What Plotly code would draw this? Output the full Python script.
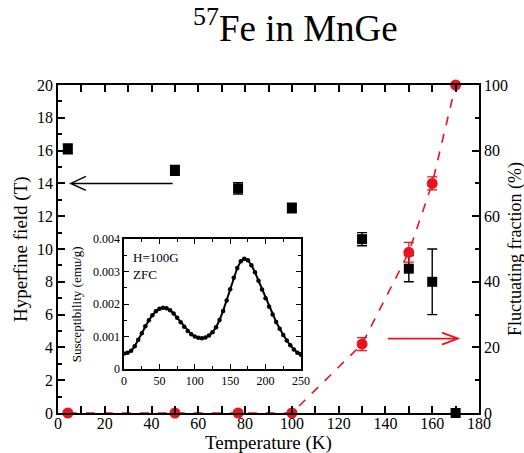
import plotly.graph_objects as go

# Hyperfine field (left axis, tesla)
temp_hf = [4.2, 50, 77, 100, 130, 150, 160, 170]
hf_field = [16.1, 14.8, 13.7, 12.5, 10.6, 8.8, 8.0, 0.0]
hf_err = [0.3, 0.3, 0.35, 0.3, 0.4, 0.8, 2.0, 0.0]

# Fluctuating fraction (right axis, percent)
temp_ff = [4.2, 50, 77, 100, 130, 150, 160, 170]
fluct_frac = [0, 0, 0, 0, 21, 49, 70, 100]
ff_err = [0, 0, 0, 0, 2, 3, 2, 0]

# ZFC susceptibility, H = 100 G (inset)
temp_chi = list(range(0, 255, 5))
chi = [0.00048, 0.00050, 0.00056, 0.00070, 0.00090, 0.00110, 0.00132, 0.00150,
       0.00166, 0.00178, 0.00186, 0.00189, 0.00187, 0.00181, 0.00171, 0.00158,
       0.00144, 0.00130, 0.00117, 0.00107, 0.00100, 0.00096, 0.00095, 0.00097,
       0.00103, 0.00113, 0.00129, 0.00151, 0.00179, 0.00211, 0.00246, 0.00281,
       0.00311, 0.00332, 0.00340, 0.00335, 0.00320, 0.00298, 0.00272, 0.00245,
       0.00218, 0.00192, 0.00168, 0.00145, 0.00124, 0.00105, 0.00088, 0.00073,
       0.00060, 0.00050, 0.00044]

FONT = "Liberation Serif, Times New Roman, serif"
RED = "#e8141e"

fig = go.Figure()

fig.add_trace(go.Scatter(
    x=temp_ff, y=fluct_frac, yaxis="y2", mode="lines+markers",
    line=dict(color=RED, width=1.6, dash="dash"),
    marker=dict(symbol="circle", size=11, color=RED),
    error_y=dict(type="data", array=ff_err, color=RED, thickness=1.2, width=5),
    cliponaxis=False, showlegend=False))

fig.add_trace(go.Scatter(
    x=temp_hf, y=hf_field, mode="markers",
    marker=dict(symbol="square", size=10, color="black"),
    error_y=dict(type="data", array=hf_err, color="black", thickness=1.4, width=5),
    cliponaxis=False, showlegend=False))

fig.add_trace(go.Scatter(
    x=temp_chi, y=chi, xaxis="x3", yaxis="y3", mode="lines+markers",
    line=dict(color="black", width=2),
    marker=dict(size=4.5, color="black"),
    showlegend=False))

tick_style = dict(ticks="inside", ticklen=7, tickwidth=1.5, linecolor="black",
                  linewidth=1.5, showline=True, showgrid=False, zeroline=False,
                  tickcolor="black", tickfont=dict(family=FONT, size=16, color="black"))

fig.update_layout(
    width=524, height=453,
    margin=dict(l=58, r=45, t=85, b=40),
    paper_bgcolor="white", plot_bgcolor="white",
    xaxis=dict(range=[0, 180], dtick=20, mirror="allticks", ticklabelstandoff=-5,
               minor=dict(dtick=10, ticklen=4, ticks="inside", tickcolor="black"),
               **tick_style),
    yaxis=dict(range=[0, 20], dtick=2,
               minor=dict(dtick=1, ticklen=4, ticks="inside", tickcolor="black"),
               **tick_style),
    yaxis2=dict(range=[0, 100], dtick=20, overlaying="y", side="right",
                minor=dict(dtick=10, ticklen=4, ticks="inside", tickcolor="black"),
                **tick_style),
    xaxis3=dict(domain=[0.157, 0.577], anchor="y3", range=[0, 250], dtick=50,
                mirror="allticks", ticks="inside", ticklen=5, tickwidth=1.3,
                showline=True, linecolor="black", linewidth=1.5, showgrid=False,
                zeroline=False, tickcolor="black",
                minor=dict(dtick=25, ticklen=3, ticks="inside", tickcolor="black"),
                tickfont=dict(family=FONT, size=12, color="black")),
    yaxis3=dict(domain=[0.134, 0.530], anchor="x3", range=[0, 0.004], dtick=0.001,
                mirror="allticks", ticks="inside", ticklen=5, tickwidth=1.3,
                showline=True, linecolor="black", linewidth=1.5, showgrid=False,
                zeroline=False, tickcolor="black", tickformat="~g",
                minor=dict(dtick=0.0005, ticklen=3, ticks="inside", tickcolor="black"),
                tickfont=dict(family=FONT, size=12, color="black")),
)

annotations = [
    dict(text="<sup>57</sup>Fe in MnGe", x=0.563, y=1.0, xref="paper", yref="paper",
         yshift=60, xanchor="center", yanchor="middle", showarrow=False,
         font=dict(family=FONT, size=37, color="black")),
    dict(text="Temperature (K)", x=0.5, xref="paper", y=0, yref="paper", yshift=-30,
         xanchor="center", yanchor="middle", showarrow=False,
         font=dict(family=FONT, size=19, color="black")),
    dict(text="Hyperfine field (T)", x=0, xref="paper", xshift=-37, y=0.5, yref="paper",
         textangle=-90, xanchor="center", yanchor="middle", showarrow=False,
         font=dict(family=FONT, size=19, color="black")),
    dict(text="Fluctuating fraction (%)", x=1, xref="paper", xshift=36, y=0.5, yref="paper",
         textangle=-90, xanchor="center", yanchor="middle", showarrow=False,
         font=dict(family=FONT, size=18, color="black")),
    dict(text="H=100G<br>ZFC", x=0.04, xref="x3 domain", y=0.93, yref="y3 domain",
         xanchor="left", yanchor="top", align="left", showarrow=False,
         font=dict(family=FONT, size=13, color="black")),
    dict(text="Susceptibility (emu/g)", x=0, xref="x3 domain", xshift=-48, y=0.5,
         yref="y3 domain", textangle=-90, xanchor="center", yanchor="middle",
         showarrow=False, font=dict(family=FONT, size=13, color="black")),
]
fig.update_layout(annotations=annotations)

# Arrows pointing to the axis each series belongs to
shapes = [
    dict(type="line", xref="x", yref="y", x0=49, x1=6, y0=14, y1=14,
         line=dict(color="black", width=1.5)),
    dict(type="path", xref="x", yref="y", xsizemode="pixel", ysizemode="pixel",
         xanchor=5.5, yanchor=14, path="M 15,7 L 0,0 L 15,-7",
         line=dict(color="black", width=1.5)),
    dict(type="line", xref="x", yref="y2", x0=141, x1=170.5, y0=22.7, y1=22.7,
         line=dict(color=RED, width=1.8)),
    dict(type="path", xref="x", yref="y2", xsizemode="pixel", ysizemode="pixel",
         xanchor=171, yanchor=22.7, path="M -16,6 L 0,0 L -16,-6",
         line=dict(color=RED, width=1.8)),
]
fig.update_layout(shapes=shapes)

fig.write_html("out.html")
